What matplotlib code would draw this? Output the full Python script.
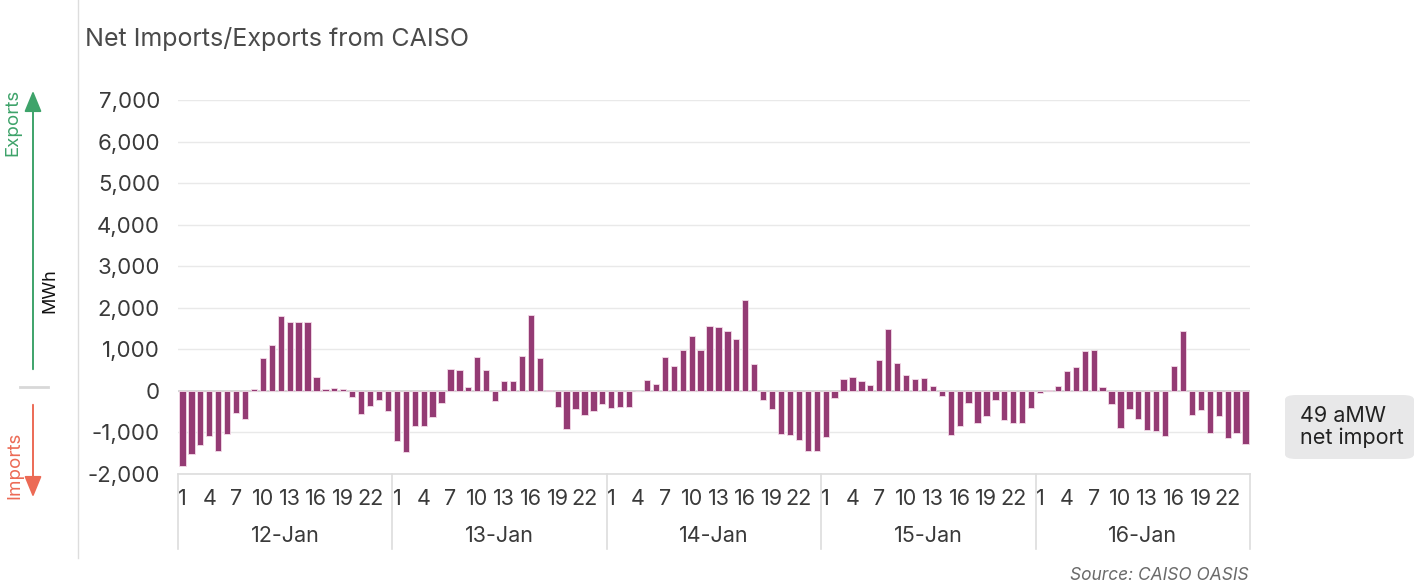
import matplotlib
matplotlib.use("Agg")
import matplotlib.pyplot as plt
import matplotlib.transforms as mtransforms
from matplotlib.patches import FancyBboxPatch, FancyArrowPatch
from matplotlib.lines import Line2D

plt.rcParams['font.family'] = ['Inter', 'DejaVu Sans']

# ---- data (MWh, positive = exports, negative = imports) ----
days = ["12-Jan", "13-Jan", "14-Jan", "15-Jan", "16-Jan"]
hour_labels = ["1", "4", "7", "10", "13", "16", "19", "22"]
jan12 = [-1800, -1516, -1306, -1089, -1435, -1048, -540, -685, 40, 790, 1113, 1798,
         1669, 1653, 1653, 323, 56, 73, 56, -137, -548, -363, -218, -476]
jan13 = [-1202, -1468, -847, -847, -637, -282, 532, 500, 97, 815, 508, -242,
         250, 242, 847, 1831, 790, 32, -395, -927, -427, -589, -484, -306]
jan14 = [-419, -379, -379, 0, 266, 177, 806, 605, 984, 1331, 992, 1573,
         1540, 1444, 1258, 2185, 637, -218, -435, -1040, -1073, -1177, -1444, -1435]
jan15 = [-1113, -177, 290, 323, 234, 137, 734, 1500, 669, 371, 282, 306,
         129, -113, -1073, -855, -298, -774, -613, -226, -702, -782, -766, -411]
jan16 = [-56, 32, 113, 476, 573, 960, 992, 97, -306, -895, -444, -669,
         -935, -976, -1089, 597, 1435, -589, -460, -1008, -605, -1137, -1024, -1274]
series = [jan12, jan13, jan14, jan15, jan16]
y_ticks = [-2000, -1000, 0, 1000, 2000, 3000, 4000, 5000, 6000, 7000]

values = [v for d in series for v in d]
n_hours = 24
x = list(range(len(values)))

W, H = 1419, 584
fig = plt.figure(figsize=(W / 100, H / 100), dpi=100)
fig.patch.set_facecolor('white')

ax = fig.add_axes([178 / W, 1 - 474 / H, (1250 - 178) / W, (474 - 100) / H])
bar_color = '#943b74'
ax.bar(x, values, width=0.7, color=bar_color, edgecolor='#f3dbe8', linewidth=0.6, zorder=3)

ax.set_xlim(-0.5, len(values) - 0.5)
ax.set_ylim(-2000, 7000)
ax.set_yticks(y_ticks)
ax.set_yticklabels([f"{t:,}" for t in y_ticks])
ax.yaxis.grid(True, color='#e9e9e9', linewidth=1.0, zorder=0)
ax.axhline(0, color='#d0d0d0', linewidth=1.2, zorder=2)
for s in ax.spines.values():
    s.set_visible(False)
ax.tick_params(axis='y', length=0, pad=13, labelsize=16, labelcolor='#3a3a3a')

# hour ticks
tick_pos = []
tick_lab = []
for di in range(len(days)):
    for hl in hour_labels:
        tick_pos.append(di * n_hours + int(hl) - 1)
        tick_lab.append(hl)
ax.set_xticks(tick_pos)
ax.set_xticklabels(tick_lab)
ax.tick_params(axis='x', length=0, pad=11, labelsize=15.5, labelcolor='#3a3a3a')

trans = mtransforms.blended_transform_factory(ax.transData, ax.transAxes)
# bottom line and day separators
ax.add_line(Line2D([-0.5, len(values) - 0.5], [0, 0], transform=trans, color='#dddddd',
                   linewidth=1.2, clip_on=False))
for di in range(len(days) + 1):
    xb = di * n_hours - 0.5
    ax.add_line(Line2D([xb, xb], [0, -75 / 374], transform=trans, color='#dddddd',
                       linewidth=1.2, clip_on=False))
for di, d in enumerate(days):
    ax.text(di * n_hours + (n_hours - 1) / 2, -62 / 374, d, transform=trans, ha='center',
            va='center', fontsize=15.5, color='#3a3a3a')

# title
fig.text(85 / W, 1 - 46 / H, "Net Imports/Exports from CAISO", fontsize=18,
         color='#4a4a4a', va='baseline', ha='left')

# left vertical divider
fig.add_artist(Line2D([78 / W, 78 / W], [1.0, 1 - 558 / H], transform=fig.transFigure,
                      color='#dddddd', linewidth=1.0))

# left annotations
green = '#3ea36a'
red = '#ec6a55'
fig.add_artist(FancyArrowPatch((33 / W, 1 - 372 / H), (33 / W, 1 - 88 / H),
                               transform=fig.transFigure,
                               arrowstyle='-|>,head_length=0.8,head_width=0.33',
                               mutation_scale=16, color=green, linewidth=1.4))
fig.add_artist(FancyArrowPatch((33 / W, 1 - 402 / H), (33 / W, 1 - 500 / H),
                               transform=fig.transFigure,
                               arrowstyle='-|>,head_length=0.8,head_width=0.33',
                               mutation_scale=16, color=red, linewidth=1.4))
fig.add_artist(Line2D([20 / W, 48 / W], [1 - 387 / H, 1 - 387 / H], transform=fig.transFigure,
                      color='#d8d8d8', linewidth=2.0))
fig.text(13 / W, 1 - 122 / H, "Exports", rotation=90, color=green, fontsize=13.5,
         ha='center', va='center')
fig.text(15 / W, 1 - 465 / H, "Imports", rotation=90, color=red, fontsize=13.5,
         ha='center', va='center')
fig.text(50 / W, 1 - 291 / H, "MWh", rotation=90, color='#111111', fontsize=13,
         ha='center', va='center')

# annotation box
box = FancyBboxPatch((1285 / W, 1 - 459 / H), (1414 - 1285) / W, 64 / H,
                     boxstyle='round,pad=0,rounding_size=0.008',
                     transform=fig.transFigure, facecolor='#e8e8e9', edgecolor='none')
fig.add_artist(box)
fig.text(1300 / W, 1 - 427 / H, "49 aMW\nnet import", fontsize=15.5, color='#222222',
         ha='left', va='center', linespacing=1.15)

# source
fig.text(1249 / W, 1 - 575 / H, "Source: CAISO OASIS", fontsize=12.5, color='#6a6a6a',
         style='italic', ha='right', va='center')

fig.savefig("out.png", dpi=100, facecolor='white')
